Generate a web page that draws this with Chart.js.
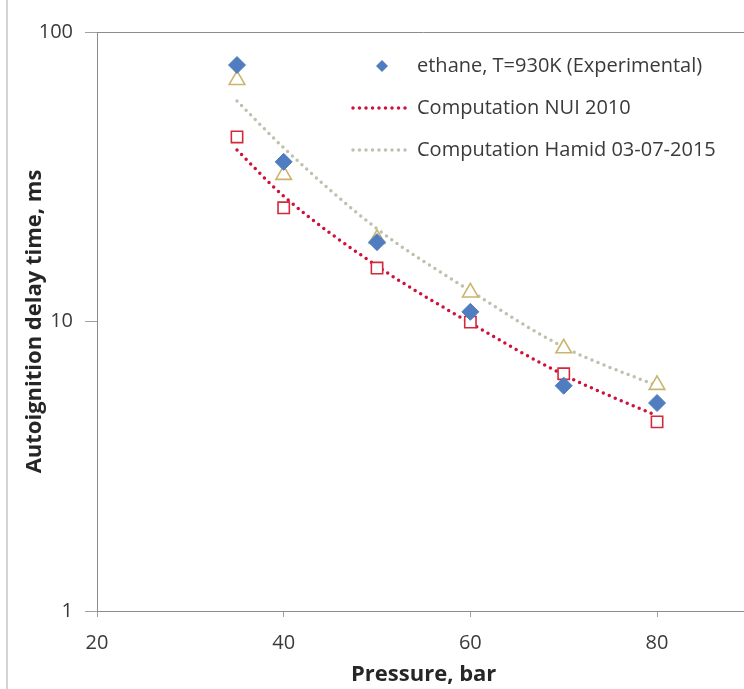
<!DOCTYPE html>
<html>
<head>
<meta charset="utf-8">
<script src="https://cdn.jsdelivr.net/npm/chart.js@4"></script>
<style>
  html, body { margin: 0; padding: 0; background: #fff; overflow: hidden; }
  #frame { position: absolute; left: 0; top: 0; width: 744px; height: 689px; overflow: hidden; }
  #frame:before { content: ''; position: absolute; left: 6px; top: 0; bottom: 0; border-left: 2px solid #d4d4d4; }
  canvas { position: absolute; left: 0; top: 0; }
</style>
</head>
<body>
<div id="frame"><canvas id="chart" width="761" height="689"></canvas></div>
<script>
// pressure (bar) and autoignition delay (ms)
const pressure = [35, 40, 50, 60, 70, 80];
const expDelay = [76.9, 35.6, 18.8, 10.8, 6.0, 5.23];
const nuiDelay = [43.4, 24.7, 15.3, 9.95, 6.6, 4.5];
const hamidDelay = [68.3, 32.1, 19.3, 12.6, 8.08, 6.04];
// dotted trend lines
const nuiTrend = [39.1, 27.1, 15.55, 9.88, 6.54, 4.72];
const hamidTrend = [57.8, 39.8, 20.9, 12.75, 8.16, 5.99];

const xTicks = [20, 40, 60, 80];
const yTicks = [1, 10, 100];
const legendLabels = ['ethane, T=930K (Experimental)', 'Computation NUI 2010', 'Computation Hamid 03-07-2015'];

const pts = arr => pressure.map((p, i) => ({ x: p, y: arr[i] }));

const FONT = '"Open Sans", "Liberation Sans", sans-serif';

const legendPlugin = {
    id: 'insideLegend',
    afterDraw(chart) {
        const ctx = chart.ctx;
        const ds = chart.data.datasets;
        const { top, left, right } = chart.chartArea;
        ctx.save();
        // top border of the plot
        ctx.strokeStyle = '#8c8c8c';
        ctx.lineWidth = 1;
        ctx.beginPath();
        ctx.moveTo(left, top + 0.5);
        ctx.lineTo(right, top + 0.5);
        ctx.stroke();

        ctx.font = '20px ' + FONT;
        ctx.textBaseline = 'middle';
        legendLabels.forEach((label, i) => {
            const y = 66 + i * 42;
            if (i === 0) {
                ctx.fillStyle = ds[0].backgroundColor;
                ctx.beginPath();
                ctx.moveTo(382, y - 6);
                ctx.lineTo(388, y);
                ctx.lineTo(382, y + 6);
                ctx.lineTo(376, y);
                ctx.closePath();
                ctx.fill();
            } else {
                const d = ds[i + 2];
                ctx.strokeStyle = d.borderColor;
                ctx.lineWidth = d.borderWidth;
                ctx.lineCap = 'round';
                ctx.setLineDash(d.borderDash);
                ctx.beginPath();
                ctx.moveTo(353, y);
                ctx.lineTo(411, y);
                ctx.stroke();
                ctx.setLineDash([]);
            }
            ctx.fillStyle = '#3a3a3a';
            ctx.fillText(label, 417, y);
        });
        ctx.restore();
    }
};

new Chart(document.getElementById('chart'), {
    type: 'scatter',
    data: {
        datasets: [
            {
                label: legendLabels[0],
                data: pts(expDelay),
                pointStyle: 'rectRot',
                pointRadius: 8.5,
                backgroundColor: '#4f7dc0',
                borderColor: '#4f7dc0',
                borderWidth: 1
            },
            {
                label: 'NUI points',
                data: pts(nuiDelay),
                pointStyle: 'rect',
                pointRadius: 8,
                backgroundColor: '#ffffff',
                borderColor: '#d22a3c',
                borderWidth: 1.6
            },
            {
                label: 'Hamid points',
                data: pts(hamidDelay),
                pointStyle: 'triangle',
                pointRadius: 9,
                backgroundColor: '#ffffff',
                borderColor: '#c9b56c',
                borderWidth: 1.6
            },
            {
                label: legendLabels[1],
                data: pts(nuiTrend),
                showLine: true,
                pointRadius: 0,
                borderColor: '#d0103a',
                borderWidth: 3.5,
                borderDash: [0, 6.5],
                borderCapStyle: 'round',
                tension: 0.4,
                cubicInterpolationMode: 'monotone'
            },
            {
                label: legendLabels[2],
                data: pts(hamidTrend),
                showLine: true,
                pointRadius: 0,
                borderColor: '#bcc2ad',
                borderWidth: 3.5,
                borderDash: [0, 6.5],
                borderCapStyle: 'round',
                tension: 0.4,
                cubicInterpolationMode: 'monotone'
            }
        ]
    },
    options: {
        responsive: false,
        animation: false,
        layout: { padding: { top: 32, right: 2, left: 0, bottom: 0 } },
        plugins: {
            legend: { display: false },
            tooltip: { enabled: false }
        },
        scales: {
            x: {
                type: 'linear',
                min: 20,
                max: 90,
                afterBuildTicks: s => { s.ticks = xTicks.map(v => ({ value: v })); },
                afterFit: s => { s.height = 78; },
                grid: { drawOnChartArea: false, drawTicks: true, tickLength: 6, color: '#a0a0a0' },
                border: { display: true, color: '#8c8c8c', width: 1 },
                ticks: { color: '#3a3a3a', font: { family: FONT, size: 20 }, padding: 14, maxRotation: 0, autoSkip: false },
                title: {
                    display: true,
                    text: 'Pressure, bar',
                    color: '#262626',
                    font: { family: FONT, size: 22, weight: 'bold' },
                    padding: { top: 0, bottom: 1 }
                }
            },
            y: {
                type: 'logarithmic',
                min: 1,
                max: 100,
                afterBuildTicks: s => { s.ticks = yTicks.map(v => ({ value: v, major: true })); },
                afterFit: s => { s.width = 97; },
                grid: { drawOnChartArea: false, drawTicks: true, tickLength: 12, color: '#a0a0a0' },
                border: { display: true, color: '#8c8c8c', width: 1 },
                ticks: {
                    color: '#3a3a3a',
                    font: { family: FONT, size: 20 },
                    padding: 12,
                    autoSkip: false,
                    callback: v => String(v)
                },
                title: {
                    display: true,
                    text: 'Autoignition delay time, ms',
                    color: '#262626',
                    font: { family: FONT, size: 22, weight: 'bold' },
                    padding: { top: 22, bottom: 0 }
                }
            }
        }
    },
    plugins: [legendPlugin]
});
</script>
</body>
</html>
